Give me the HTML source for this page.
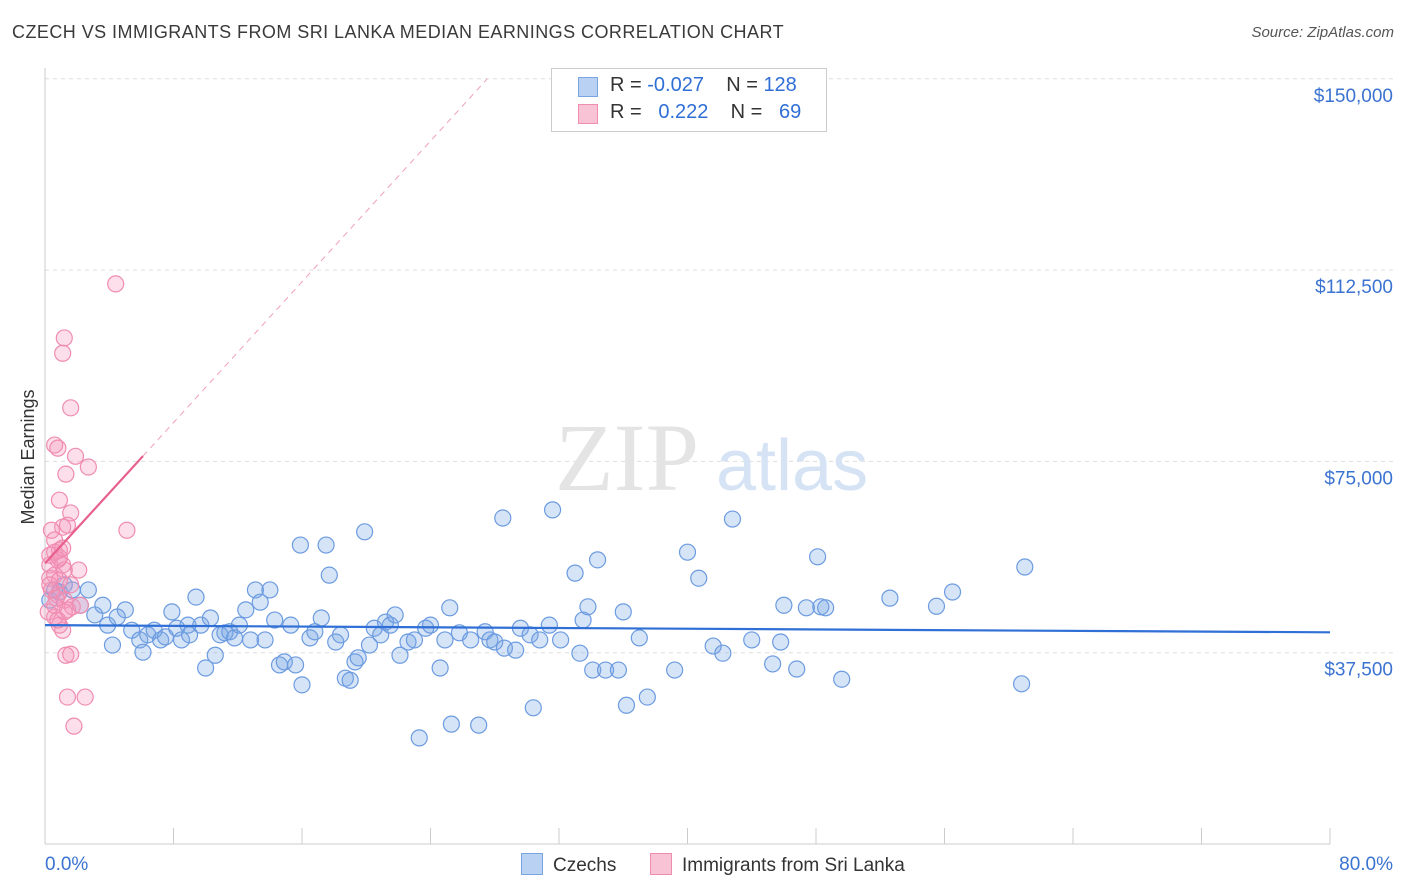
<!DOCTYPE html>
<html><head><meta charset="utf-8">
<style>
body{margin:0;background:#fff;font-family:"Liberation Sans",sans-serif;}
#wrap{position:relative;width:1406px;height:892px;overflow:hidden;}
.t{position:absolute;white-space:nowrap;}
</style></head>
<body>
<div id="wrap">
<div class="t" style="left:12px;top:22px;font-size:18px;letter-spacing:0.45px;color:#3a3a3a;">CZECH VS IMMIGRANTS FROM SRI LANKA MEDIAN EARNINGS CORRELATION CHART</div>
<div class="t" style="right:12px;top:24px;font-size:15px;color:#555;font-style:italic;">Source: ZipAtlas.com</div>
<svg id="svg" width="1406" height="892" style="position:absolute;left:0;top:0"></svg>
</div>
<script>
const yTicks=[37500,75000,112500,150000];
const yTickLabels=["$37,500","$75,000","$112,500","$150,000"];
const xTickLabels=["0.0%","80.0%"];
const czX=[0.3,0.6,0.9,1.2,1.7,2.2,2.7,3.1,3.6,3.9,4.2,4.5,5.0,5.4,5.9,6.1,6.4,6.8,7.2,7.5,7.9,8.2,8.5,8.9,9.0,9.4,9.7,10.0,10.3,10.6,10.9,11.2,11.5,11.8,12.1,12.5,12.8,13.1,13.4,13.7,14.0,14.3,14.6,14.9,15.3,15.6,15.9,16.0,16.5,16.8,17.2,17.5,17.7,18.1,18.4,18.7,19.0,19.3,19.5,19.9,20.2,20.5,20.9,21.2,21.5,21.8,22.1,22.6,23.0,23.3,23.7,24.0,24.6,24.9,25.2,25.3,25.8,26.5,27.0,27.4,27.7,28.0,28.5,28.6,29.3,29.6,30.2,30.4,30.8,31.4,31.6,32.1,33.0,33.3,33.5,33.8,34.1,34.4,34.9,35.7,36.0,36.2,37.0,37.5,39.2,40.0,40.7,41.6,42.2,42.8,44.0,45.3,45.8,46.0,46.8,47.4,48.1,48.3,48.6,49.6,52.6,55.5,56.5,60.8,61.0];
const czY=[47.8,49.8,49.4,50.8,49.8,46.8,49.8,44.9,46.8,42.9,39.0,44.5,45.9,41.9,40.0,37.6,41.0,41.9,40.0,40.6,45.5,42.3,40.0,42.9,41.0,48.4,42.9,34.5,44.3,37.0,41.0,41.4,41.6,40.4,42.9,45.9,40.0,49.8,47.4,40.0,49.8,43.9,35.1,35.7,42.9,35.1,58.6,31.2,40.4,41.6,44.3,58.6,52.7,39.6,41.0,32.5,32.1,35.7,36.5,61.2,39.0,42.3,41.0,43.5,42.9,44.9,37.0,39.6,40.0,20.8,42.3,42.9,34.5,40.0,46.3,23.5,41.4,40.0,23.3,41.6,40.0,39.6,63.9,38.4,38.0,42.3,41.0,26.7,40.0,42.9,65.5,40.0,53.1,37.4,43.9,46.5,34.1,55.7,34.1,34.1,45.5,27.2,40.4,28.8,34.1,57.2,52.1,38.8,37.4,63.7,40.0,35.3,39.6,46.8,34.3,46.3,56.3,46.5,46.3,32.3,48.2,46.6,49.4,31.4,54.3];
const slX=[4.4,1.2,1.1,1.6,0.6,0.8,1.9,1.3,2.7,0.9,1.6,1.1,1.4,5.1,0.4,0.6,0.9,0.3,0.8,1.1,1.2,0.6,0.3,0.9,1.6,2.1,0.4,0.8,1.2,1.7,2.2,0.2,0.6,0.9,1.1,0.8,1.4,1.3,1.6,1.4,2.5,1.8,0.6,0.9,0.3,1.1,0.7,1.2,0.6,0.3];
const slY=[109.8,99.2,96.2,85.5,78.2,77.6,76.0,72.5,73.9,67.4,64.9,62.1,62.5,61.5,61.5,59.6,57.6,56.6,55.7,54.7,53.7,52.7,52.1,51.7,50.8,53.7,49.8,48.8,47.8,46.5,46.8,45.5,44.5,42.9,41.9,43.9,45.9,37.0,37.2,28.8,28.8,23.1,57.2,56.1,54.7,58.0,48.2,45.5,46.8,50.8];
const czTrend=[42.9,41.5];      // at x=0 and x=80
const slTrend=[55,3.45];       // intercept, slope per %
const X0=45,X1=1330,Y0=844,PX=(X1-X0)/80,PY=191.3/37.5;
const xs=v=>X0+v*PX, ys=v=>Y0-v*PY;
const svg=document.getElementById('svg');const NS='http://www.w3.org/2000/svg';
function mk(tag,at,p){const e=document.createElementNS(NS,tag);for(const k in at)e.setAttribute(k,at[k]);(p||svg).appendChild(e);return e;}
yTicks.forEach((v,i)=>{
 const g=mk('line',{x1:X0,x2:1395,y1:ys(v/1000),y2:ys(v/1000),stroke:'#ddd','stroke-dasharray':'4,4'});
 
 
 const t=mk('text',{x:1393,y:ys(v/1000)+23,'text-anchor':'end','font-size':19,fill:'#3b73d1','font-family':'Liberation Sans'});
 t.textContent=yTickLabels[i];
 
 
});
mk('line',{x1:45,x2:45,y1:68,y2:Y0,stroke:'#ccc'});
mk('line',{x1:45,x2:1330,y1:Y0,y2:Y0,stroke:'#ccc'});
for(let i=0;i<=10;i++){const tk=mk('line',{x1:xs(i*8),x2:xs(i*8),y1:Y0,y2:828,stroke:'#ccc'});
 
 }
[[0,45,'start'],[1,1393,'end']].forEach(([i,x,a])=>{const t=mk('text',{x:x,y:870,'text-anchor':a,'font-size':19,fill:'#3b73d1','font-family':'Liberation Sans'});t.textContent=xTickLabels[i];
 
 });
const yl=mk('text',{x:0,y:0,transform:'translate(34,457) rotate(-90)','text-anchor':'middle','font-size':18,fill:'#333','font-family':'Liberation Sans'});yl.textContent='Median Earnings';


const wm=mk('text',{x:555,y:490,'font-size':96,fill:'#e4e4e4','font-family':'Liberation Serif'});wm.textContent='ZIP';


const wm2=mk('text',{x:716,y:490,'font-size':72,fill:'#d5e3f5','font-family':'Liberation Sans'});wm2.textContent='atlas';


czX.forEach((x,i)=>{const c=mk('circle',{cx:xs(x),cy:ys(czY[i]),r:8,fill:'rgba(120,165,230,0.3)',stroke:'#6c9be0','stroke-width':1.2});
 
 });
slX.forEach((x,i)=>{const c=mk('circle',{cx:xs(x),cy:ys(slY[i]),r:8,fill:'rgba(245,150,185,0.3)',stroke:'#f08cb0','stroke-width':1.2});
 
 });
const bt=mk('line',{x1:xs(0),y1:ys(czTrend[0]),x2:xs(80),y2:ys(czTrend[1]),stroke:'#2f6fd6','stroke-width':2.2});


const xe=(150-slTrend[0])/slTrend[1];
const pd=mk('line',{x1:xs(6.1),y1:ys(slTrend[0]+slTrend[1]*6.1),x2:xs(xe),y2:ys(150),stroke:'#f0a0bd','stroke-width':1,'stroke-dasharray':'6,5'});


const pt=mk('line',{x1:xs(0),y1:ys(slTrend[0]),x2:xs(6.1),y2:ys(slTrend[0]+slTrend[1]*6.1),stroke:'#e8608e','stroke-width':2.2});


</script>
<div class="t" style="left:551px;top:68px;width:274px;height:62px;border:1px solid #ccc;background:#fff;font-size:20px;color:#333;">
 <div style="position:absolute;left:26px;top:8px;width:18px;height:18px;background:#b9d1f3;border:1px solid #7aa4e0;"></div>
 <div style="position:absolute;left:58px;top:5px;">R = <span style="color:#2f6fd6">-0.027</span>&nbsp;&nbsp;&nbsp;&nbsp;N = <span style="color:#2f6fd6">128</span></div>
 <div style="position:absolute;left:26px;top:35px;width:18px;height:18px;background:#f8c3d5;border:1px solid #f08cb0;"></div>
 <div style="position:absolute;left:58px;top:32px;">R = &nbsp;&nbsp;<span style="color:#2f6fd6">0.222</span>&nbsp;&nbsp;&nbsp;&nbsp;N = &nbsp;&nbsp;<span style="color:#2f6fd6">69</span></div>
</div>
<div class="t" style="left:521px;top:853px;font-size:19px;color:#333;"><span style="display:inline-block;width:20px;height:20px;background:#b9d1f3;border:1px solid #7aa4e0;vertical-align:-4px;margin-right:10px;"></span>Czechs</div>
<div class="t" style="left:650px;top:853px;font-size:19px;color:#333;"><span style="display:inline-block;width:20px;height:20px;background:#f8c3d5;border:1px solid #f08cb0;vertical-align:-4px;margin-right:10px;"></span>Immigrants from Sri Lanka</div>
</body></html>
